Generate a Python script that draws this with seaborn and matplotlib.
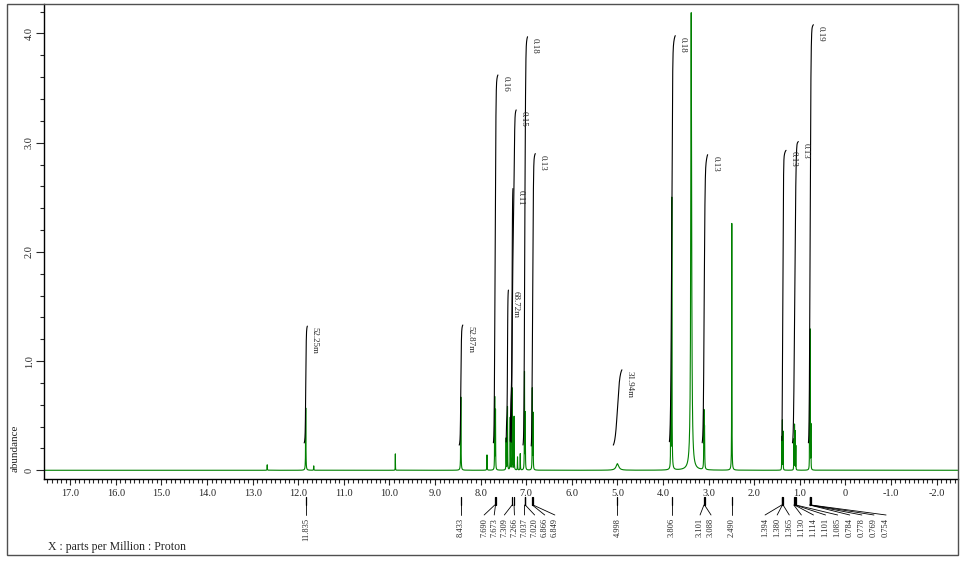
import numpy as np
import matplotlib
matplotlib.use('Agg')
import matplotlib.pyplot as plt
import matplotlib.transforms as mtransforms
from matplotlib.patches import Rectangle
from matplotlib.ticker import MultipleLocator
import seaborn as sns

# Peak list: position (ppm), height, half width (ppm)
peak_ppm = [12.68, 11.835, 11.66, 9.87, 8.433, 7.86, 7.690, 7.673, 7.44, 7.41,
            7.35, 7.309, 7.266, 7.19, 7.13, 7.037, 7.020, 6.866, 6.849, 4.998,
            3.83, 3.806, 3.38, 3.101, 3.088, 2.490, 1.394, 1.380, 1.365, 1.130,
            1.114, 1.101, 1.085, 0.784, 0.778, 0.769, 0.754]
peak_height = [0.05, 0.57, 0.04, 0.15, 0.67, 0.14, 0.66, 0.54, 0.29, 0.58,
               0.48, 0.75, 0.49, 0.12, 0.15, 0.89, 0.51, 0.74, 0.51, 0.06,
               0.57, 2.49, 4.19, 0.52, 0.36, 2.26, 0.30, 0.45, 0.35, 0.28,
               0.41, 0.35, 0.22, 0.57, 0.80, 1.24, 0.40]
peak_width = [0.003, 0.004, 0.003, 0.002, 0.004, 0.003, 0.003, 0.003, 0.003, 0.003,
              0.003, 0.003, 0.003, 0.003, 0.003, 0.003, 0.003, 0.003, 0.003, 0.035,
              0.003, 0.004, 0.011, 0.004, 0.004, 0.003, 0.002, 0.002, 0.002, 0.002,
              0.002, 0.002, 0.002, 0.002, 0.002, 0.002, 0.002]

# Peak pick labels, grouped as they are printed under the axis
label_groups = [
    ['11.835'],
    ['8.433'],
    ['7.690', '7.673', '7.309', '7.266', '7.037', '7.020', '6.866', '6.849'],
    ['4.998'],
    ['3.806'],
    ['3.101', '3.088'],
    ['2.490'],
    ['1.394', '1.380', '1.365', '1.130', '1.114', '1.101', '1.085',
     '0.784', '0.778', '0.769', '0.754'],
]
# label layout per group: shift of first label (px), spacing (px)
group_layout = [(0, 0), (0, 0), (-10.6, 10.1), (0, 0), (0, 0),
                (-3.9, 11.0), (0, 0), (-16.7, 12.1)]

# Integral curves: start/end ppm, curve bottom/top (abundance units), value text
int_start = [11.87, 8.47, 7.72, 7.44, 7.35, 7.33, 7.07, 6.89, 5.09, 3.86, 3.14, 1.39, 1.16, 0.81]
int_end = [11.80, 8.39, 7.62, 7.39, 7.29, 7.22, 6.97, 6.80, 4.90, 3.73, 3.02, 1.30, 1.03, 0.70]
int_low = [0.25, 0.23, 0.25, 0.25, 0.25, 0.25, 0.23, 0.22, 0.23, 0.26, 0.25, 0.25, 0.25, 0.25]
int_high = [1.32, 1.33, 3.62, 1.65, 2.58, 3.30, 3.97, 2.90, 0.92, 3.98, 2.89, 2.93, 3.01, 4.08]
int_text = ['52.25m', '52.87m', '0.16', '68.72m', '0.11', '0.15', '0.18', '0.13',
            '31.94m', '0.18', '0.13', '0.13', '0.13', '0.19']

y_ticks = [0, 1, 2, 3, 4]
y_ticklabels = ['0', '1.0', '2.0', '3.0', '4.0']
x_ticks = list(range(-2, 18))
x_ticklabels = ['0' if v == 0 else f'{v:.1f}' for v in x_ticks]

# build the trace from the peak list
ppm = np.arange(-2.465, 17.57, 0.0005)
intensity = np.zeros_like(ppm)
for p, h, w in zip(peak_ppm, peak_height, peak_width):
    intensity += h / (1 + ((ppm - p) / w) ** 2)

sns.set_style('ticks')
plt.rcParams['font.family'] = ['Liberation Serif', 'DejaVu Serif']

fig = plt.figure(figsize=(9.67, 5.62), dpi=100)
ax = fig.add_axes([44.3 / 967, 1 - 479 / 562, (957.7 - 44.3) / 967, (479 - 4) / 562])

sns.lineplot(x=ppm, y=intensity, ax=ax, color='#008000', linewidth=0.8,
             estimator=None, sort=False)

ax.set_xlim(17.57, -2.465)
ax.set_ylim(-0.08, 4.27)
ax.set_xlabel('')
ax.set_ylabel('')
for side in ['top', 'right']:
    ax.spines[side].set_visible(False)
for side in ['left', 'bottom']:
    ax.spines[side].set_linewidth(1.0)
    ax.spines[side].set_color('black')

ax.set_yticks(y_ticks, y_ticklabels, rotation=90, va='center', fontsize=7.5)
ax.yaxis.set_minor_locator(MultipleLocator(0.2))
ax.set_xticks(x_ticks, x_ticklabels, fontsize=7.5)
ax.xaxis.set_minor_locator(MultipleLocator(0.1))
ax.tick_params(axis='y', which='major', length=6, width=0.8, pad=1.5)
ax.tick_params(axis='y', which='minor', length=3, width=0.8)
ax.tick_params(axis='x', which='major', length=4.5, width=0.8, pad=2.5)
ax.tick_params(axis='x', which='minor', length=2.7, width=0.8)

# integral curves: running sum of the (smoothed) trace over each region
for a, b, lo, hi, txt in zip(int_start, int_end, int_low, int_high, int_text):
    mask = (ppm <= a) & (ppm >= b)
    xs = ppm[mask][::-1]
    seg = intensity[mask][::-1]
    kern = np.hanning(max(len(seg) // 2, 3))
    seg = np.convolve(seg, kern, mode='same') + 1e-9
    cum = np.cumsum(seg)
    cum = cum / cum[-1]
    ax.plot(xs, lo + (hi - lo) * cum, color='black', lw=0.8, zorder=4)
    tr = mtransforms.offset_copy(ax.transData, fig=fig, x=7.5, y=-1, units='dots')
    ax.text(b, hi, txt, rotation=270, ha='center', va='top', fontsize=6.5,
            transform=tr, zorder=5)

# peak pick marks below the axis
ax_h = ax.get_window_extent().height
xt = ax.get_xaxis_transform()
inv = ax.transData.inverted()
for labels, (dx, step) in zip(label_groups, group_layout):
    x0 = ax.transData.transform((float(labels[0]), 0))[0]
    for i, lab in enumerate(labels):
        p = float(lab)
        lx = inv.transform((x0 + dx + i * step, 0))[0]
        ax.plot([p, p], [-18 / ax_h, -26 / ax_h], transform=xt, color='black',
                lw=0.9, clip_on=False)
        ax.plot([p, lx], [-26 / ax_h, -36 / ax_h], transform=xt, color='black',
                lw=0.6, clip_on=False)
        ax.text(lx, -39 / ax_h, lab, transform=xt, rotation=90, ha='center',
                va='top', fontsize=6)

fig.text(15 / 967, 1 - 448 / 562, 'abundance', rotation=90, ha='center',
         va='center', fontsize=8)
fig.text(48 / 967, 1 - 547 / 562, 'X : parts per Million : Proton', ha='left',
         va='center', fontsize=8.5)
fig.add_artist(Rectangle((7.3 / 967, 1 - 555 / 562), (958 - 7.3) / 967,
                         (555 - 4) / 562, transform=fig.transFigure, fill=False,
                         ec='#505050', lw=1.0))

fig.savefig('out.png', dpi=100)
